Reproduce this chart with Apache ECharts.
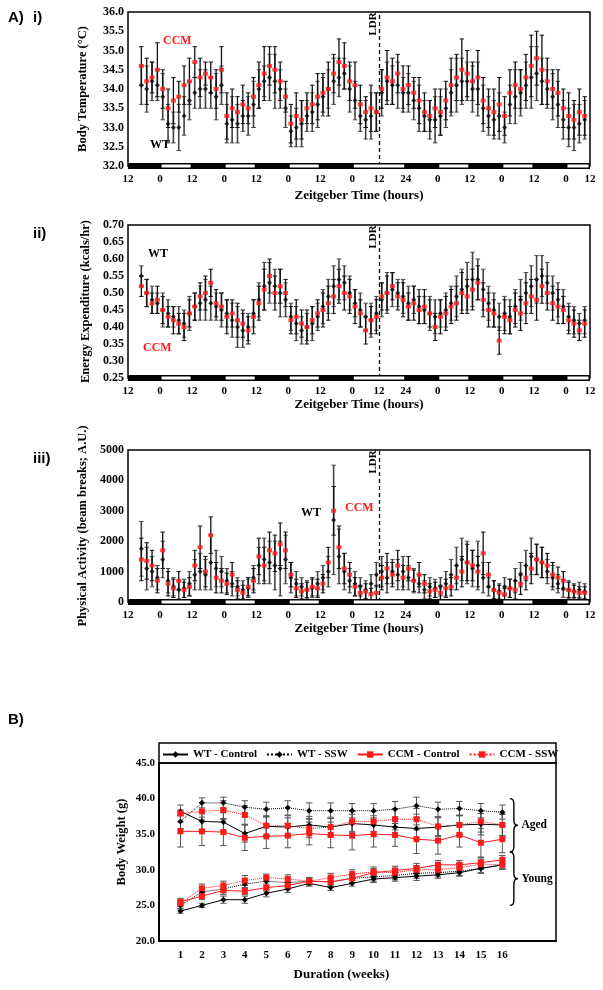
<!DOCTYPE html>
<html><head><meta charset="utf-8">
<script src="https://cdn.jsdelivr.net/npm/echarts@6/dist/echarts.min.js"></script>
<style>html,body{margin:0;padding:0;background:#fff}#c{width:603px;height:990px}</style>
</head><body><div id="c"></div>
<script>
// ---------- Panel A: Zeitgeber axis ----------
const zeitTickPos = [0,12,24,36,48,60,72,84,94,104,116,128,140,152,164,173];
const zeitTickLabels = ['12','0','12','0','12','0','12','0','12','24','0','12','0','12','0','12'];
const lightPhases = [[12,24],[36,48],[60,72],[84,104],[116,128],[140,152],[164,173]];
const zeitMax = 173;
const ldrPos = 94;

// ---------- i) Body temperature ----------
const tempWT = [34.1,34.0,34.2,34.1,33.8,33.1,33.0,33.0,33.3,33.7,
33.9,34.0,34.0,33.9,33.8,34.1,33.1,33.2,33.1,33.3,
33.3,33.6,34.0,34.2,34.3,34.2,34.0,33.5,32.9,33.0,
33.1,33.3,33.4,33.6,33.8,34.0,34.2,34.3,34.4,34.0,
33.7,33.3,33.2,33.3,33.4,33.9,34.2,34.1,34.1,33.9,
33.9,33.7,33.5,33.3,33.2,33.2,33.3,33.5,33.9,34.1,
34.2,34.2,34.0,34.0,33.5,33.3,33.2,33.3,33.0,33.6,
33.8,33.9,34.1,34.3,34.4,34.2,34.0,33.8,33.6,33.2,
33.0,33.0,33.1,33.2];
const tempWTErr = [0.5,0.6,0.5,0.4,0.6,0.5,0.4,0.6,0.5,0.5,
0.4,0.5,0.5,0.4,0.6,0.5,0.5,0.6,0.5,0.4,
0.5,0.6,0.5,0.4,0.6,0.7,0.5,0.5,0.4,0.5,
0.6,0.4,0.5,0.6,0.5,0.5,0.6,0.5,0.4,0.6,
0.5,0.4,0.5,0.6,0.5,0.6,0.5,0.5,0.6,0.4,
0.5,0.5,0.6,0.4,0.5,0.6,0.5,0.5,0.6,0.7,
0.6,0.5,0.6,0.7,0.6,0.5,0.5,0.6,0.4,0.5,
0.7,0.6,0.6,0.8,0.7,0.6,0.5,0.6,0.6,0.5,
0.5,0.6,0.5,0.5];
const tempCCM = [34.6,34.2,34.3,34.5,34.0,33.5,33.7,33.8,34.1,34.2,
34.7,34.3,34.4,34.3,34.0,34.5,33.3,33.5,33.4,33.6,
33.5,33.8,34.1,34.4,34.6,34.5,34.2,33.8,33.1,33.3,
33.2,33.5,33.6,33.8,33.9,34.0,34.4,34.7,34.6,34.2,
34.1,33.6,33.4,33.5,33.4,34.0,34.3,34.2,34.4,34.0,
34.1,33.9,33.7,33.4,33.3,33.5,33.4,33.7,34.1,34.3,
34.5,34.4,34.2,34.3,33.7,33.5,33.4,33.6,33.3,33.9,
34.1,34.0,34.3,34.6,34.8,34.5,34.2,34.0,33.9,33.5,
33.3,33.2,33.4,33.3];
const tempCCMErr = [0.5,0.6,0.4,0.7,0.5,0.5,0.6,0.4,0.5,0.6,
0.4,0.5,0.3,0.4,0.5,0.6,0.6,0.5,0.4,0.5,
0.4,0.5,0.6,0.7,0.5,0.6,0.5,0.4,0.5,0.6,
0.5,0.4,0.5,0.6,0.5,0.7,0.5,0.6,0.6,0.5,
0.6,0.5,0.4,0.6,0.5,0.5,0.7,0.6,0.5,0.6,
0.5,0.4,0.6,0.5,0.4,0.5,0.6,0.5,0.7,0.6,
0.8,0.6,0.5,0.7,0.6,0.5,0.6,0.7,0.5,0.6,
0.6,0.5,0.6,0.8,0.7,0.9,0.6,0.5,0.6,0.5,
0.6,0.5,0.6,0.5];

// ---------- ii) Energy expenditure ----------
const eeWT = [0.55,0.50,0.48,0.47,0.45,0.44,0.43,0.42,0.41,0.44,
0.46,0.47,0.48,0.47,0.46,0.45,0.44,0.42,0.40,0.39,
0.40,0.44,0.48,0.52,0.53,0.52,0.50,0.48,0.43,0.41,
0.39,0.40,0.41,0.43,0.46,0.49,0.52,0.54,0.53,0.50,
0.47,0.45,0.43,0.42,0.44,0.48,0.50,0.51,0.50,0.49,
0.47,0.48,0.46,0.45,0.44,0.43,0.44,0.45,0.47,0.49,
0.51,0.52,0.54,0.54,0.51,0.47,0.45,0.43,0.44,0.43,
0.46,0.48,0.50,0.52,0.54,0.55,0.53,0.50,0.48,0.46,
0.43,0.42,0.41,0.42];
const eeWTErr = [0.03,0.04,0.04,0.03,0.05,0.04,0.03,0.04,0.04,0.05,
0.04,0.05,0.06,0.05,0.04,0.05,0.04,0.05,0.06,0.05,
0.04,0.04,0.05,0.07,0.06,0.05,0.07,0.05,0.04,0.05,
0.04,0.04,0.05,0.04,0.05,0.05,0.06,0.06,0.05,0.05,
0.04,0.05,0.04,0.05,0.05,0.05,0.06,0.05,0.04,0.05,
0.05,0.04,0.05,0.04,0.05,0.05,0.04,0.05,0.05,0.06,
0.06,0.07,0.08,0.06,0.06,0.05,0.05,0.04,0.05,0.05,
0.05,0.06,0.06,0.06,0.07,0.06,0.06,0.05,0.05,0.05,
0.04,0.04,0.03,0.04];
const eeCCM = [0.52,0.50,0.47,0.48,0.45,0.43,0.42,0.41,0.40,0.44,
0.46,0.49,0.50,0.53,0.47,0.46,0.43,0.44,0.42,0.41,
0.39,0.43,0.47,0.51,0.55,0.50,0.52,0.50,0.42,0.43,
0.41,0.40,0.42,0.44,0.45,0.47,0.49,0.52,0.50,0.49,
0.46,0.44,0.39,0.42,0.43,0.49,0.50,0.52,0.49,0.48,
0.46,0.47,0.45,0.46,0.44,0.40,0.43,0.44,0.46,0.47,
0.50,0.49,0.51,0.53,0.48,0.45,0.44,0.36,0.43,0.42,
0.45,0.44,0.47,0.49,0.48,0.52,0.50,0.47,0.46,0.45,
0.42,0.41,0.39,0.41];
const eeCCMErr = [0.03,0.04,0.03,0.04,0.04,0.03,0.04,0.03,0.04,0.04,
0.04,0.04,0.05,0.04,0.04,0.04,0.05,0.04,0.05,0.04,
0.04,0.05,0.05,0.06,0.05,0.05,0.05,0.04,0.04,0.05,
0.04,0.05,0.04,0.04,0.05,0.05,0.05,0.05,0.05,0.05,
0.05,0.04,0.04,0.04,0.05,0.04,0.05,0.04,0.04,0.05,
0.04,0.05,0.04,0.05,0.04,0.04,0.05,0.05,0.05,0.05,
0.06,0.05,0.06,0.05,0.05,0.05,0.04,0.04,0.05,0.04,
0.05,0.05,0.06,0.05,0.06,0.05,0.05,0.05,0.05,0.04,
0.04,0.04,0.03,0.04];

// ---------- iii) Physical activity ----------
const paWT = [1750,1100,1000,800,1400,700,500,400,450,600,
900,1000,900,1300,1100,1000,700,600,500,400,
450,800,1200,1400,1300,1200,1100,1400,800,600,
500,400,450,600,800,1000,2700,1500,1000,700,
600,500,400,600,900,1000,800,1000,900,1000,
800,700,600,400,500,450,500,600,900,1200,
1400,1300,1100,1200,800,500,400,350,500,450,
700,900,1200,1500,1400,1300,1000,800,600,450,
400,350,400,350];
const paWTErr = [900,700,500,400,600,400,300,300,300,400,
500,600,500,900,600,500,400,400,300,300,
300,400,600,700,700,800,900,800,500,400,
300,300,300,400,400,500,1800,900,600,400,
400,300,300,300,400,500,500,400,500,500,
400,400,300,300,300,300,300,400,500,600,
700,700,600,800,500,300,300,250,300,300,
400,400,500,600,500,500,400,400,300,300,
300,250,250,250];
const paCCM = [1400,1350,1200,700,1700,600,450,700,400,500,
1200,1800,1000,2200,800,700,600,900,400,300,
500,700,1500,1200,1700,1600,1900,1700,900,450,
350,400,500,450,600,1300,3000,1800,1100,900,
500,300,350,250,300,800,1100,900,1200,800,
1100,700,900,600,350,400,300,450,500,800,
1000,1300,1200,1000,1600,900,400,300,250,450,
400,600,800,1100,1400,1300,1200,900,800,700,
400,350,300,300];
const paCCMErr = [700,600,500,400,600,400,300,300,250,300,
500,700,500,600,500,400,350,400,300,250,
300,400,600,600,600,600,700,600,400,300,
250,250,300,300,300,500,800,700,500,400,
300,250,250,200,250,400,500,400,500,400,
400,350,400,300,250,250,250,300,300,400,
500,600,500,500,700,400,300,250,200,300,
300,350,400,500,500,500,400,400,350,300,
250,200,200,200];

// ---------- B) Body weight ----------
const weeks = [1,2,3,4,5,6,7,8,9,10,11,12,13,14,15,16];
const wtCtrlAged  = [38.2,36.8,36.7,35.1,36.1,36.0,36.3,36.0,36.5,36.3,36.0,35.8,36.0,36.3,36.4,36.3];
const wtSswAged   = [36.8,39.4,39.4,38.8,38.5,38.7,38.3,38.3,38.3,38.3,38.5,39.0,38.5,38.6,38.3,38.1];
const ccmCtrlAged = [35.4,35.4,35.3,34.5,34.7,34.8,35.1,34.9,34.8,35.0,34.9,34.3,34.1,34.9,33.8,34.3];
const ccmSswAged  = [37.9,38.2,38.4,37.7,36.2,36.2,35.8,36.0,36.8,36.8,37.1,37.1,36.1,36.3,36.8,36.3];
const wtCtrlYoung  = [24.2,25.0,25.8,25.8,26.7,27.3,28.1,27.5,28.1,28.7,28.9,29.1,29.3,29.6,30.2,30.7];
const wtSswYoung   = [25.0,26.9,27.3,28.0,28.4,28.2,28.4,28.3,28.8,29.0,29.2,29.5,29.6,29.8,30.2,30.7];
const ccmCtrlYoung = [25.5,26.3,27.1,27.0,27.5,27.8,28.4,28.3,28.8,29.6,29.9,30.2,30.7,30.7,31.0,31.4];
const ccmSswYoung  = [25.3,27.4,27.8,28.5,28.9,28.7,28.4,28.9,29.4,29.7,29.6,30.0,30.0,30.3,30.8,30.7];
const wtCtrlAgedErr  = [0.2,1.3,1.3,1.2,1.3,1.3,1.2,1.2,1.3,1.3,1.2,1.5,1.3,1.3,1.5,1.5];
const wtSswAgedErr   = [1.0,0.7,0.8,0.9,1.0,1.0,1.1,1.1,1.0,1.0,1.1,1.2,1.0,1.0,1.0,1.0];
const ccmCtrlAgedErr = [2.2,2.0,1.9,1.8,1.7,1.7,1.6,1.8,2.0,1.8,1.6,2.0,1.9,1.7,2.0,1.9];
const ccmSswAgedErr  = [1.2,1.2,1.3,1.3,1.4,1.4,1.3,1.4,1.4,1.4,1.5,1.5,1.3,1.4,1.5,1.5];
const wtCtrlYoungErr  = [0.3,0.3,0.5,0.5,0.5,0.5,0.4,0.4,0.4,0.5,0.5,0.6,0.5,0.5,0.6,0.6];
const wtSswYoungErr   = [0.4,0.5,0.5,0.6,0.6,0.6,0.5,0.6,0.6,0.6,0.6,0.7,0.6,0.6,0.7,0.6];
const ccmCtrlYoungErr = [0.5,0.5,0.6,0.5,0.5,0.5,0.5,0.6,0.6,0.6,0.6,0.7,0.6,0.6,0.7,0.6];
const ccmSswYoungErr  = [0.4,0.6,0.6,0.7,0.5,0.6,0.5,0.6,0.6,0.7,0.6,0.6,0.6,0.6,0.7,0.6];

// ---------- build ----------
const SERIF = '"Times New Roman","Liberation Serif",serif';
const SANS = 'Arial,"Liberation Sans",sans-serif';
const RED = '#ff1a1a';
const hoursOf = arr => arr.map((_, i) => 5 + 2 * i);

const panels = [
  {wt: tempWT, wtErr: tempWTErr, ccm: tempCCM, ccmErr: tempCCMErr, min: 32, max: 36, interval: 0.5, dec: 1,
   yName: 'Body Temperature (°C)', top: 12, height: 154, nameGap: 23, yNameGap: 39},
  {wt: eeWT, wtErr: eeWTErr, ccm: eeCCM, ccmErr: eeCCMErr, min: 0.25, max: 0.70, interval: 0.05, dec: 2,
   yName: 'Energy Expenditure (kcals/hr)', top: 225, height: 153, nameGap: 19, yNameGap: 29},
  {wt: paWT, wtErr: paWTErr, ccm: paCCM, ccmErr: paCCMErr, min: 0, max: 5000, interval: 1000, dec: 0,
   yName: 'Physical Activity (beam breaks; A.U.)', top: 450, height: 152, nameGap: 19, yNameGap: 32}
];

function errBar(gi, xs, ys, es, color, cap, z, lw) {
  return {
    type: 'custom', xAxisIndex: gi, yAxisIndex: gi, silent: true, z: z, clip: true,
    data: xs.map((x, i) => [x, ys[i] - (es[i] || 0), ys[i] + (es[i] || 0)]),
    encode: {x: 0, y: [1, 2]},
    renderItem: (params, api) => {
      const x = api.value(0);
      const lo = api.coord([x, api.value(1)]);
      const hi = api.coord([x, api.value(2)]);
      const st = {stroke: color, lineWidth: lw};
      const cs = {stroke: color, lineWidth: 1};
      return {type: 'group', children: [
        {type: 'line', shape: {x1: lo[0], y1: lo[1], x2: hi[0], y2: hi[1]}, style: st},
        {type: 'line', shape: {x1: lo[0] - cap, y1: lo[1], x2: lo[0] + cap, y2: lo[1]}, style: cs},
        {type: 'line', shape: {x1: hi[0] - cap, y1: hi[1], x2: hi[0] + cap, y2: hi[1]}, style: cs}
      ]};
    }
  };
}

function ldBand(gi, yMin) {
  const data = [[0, zeitMax, 0]].concat(lightPhases.map(p => [p[0], p[1], 1]));
  return {
    type: 'custom', xAxisIndex: gi, yAxisIndex: gi, silent: true, z: 10, clip: false,
    data: data, encode: {x: [0, 1]},
    renderItem: (params, api) => {
      const s = api.coord([api.value(0), yMin]);
      const e = api.coord([api.value(1), yMin]);
      if (api.value(2) === 0) {
        return {type: 'rect', shape: {x: s[0], y: s[1] - 3, width: e[0] - s[0], height: 6}, style: {fill: '#000'}};
      }
      return {type: 'rect', shape: {x: s[0] + 1.5, y: s[1] - 1.5, width: e[0] - s[0] - 3, height: 3}, style: {fill: '#fff'}};
    }
  };
}

const grids = [], xAxes = [], yAxes = [], series = [];
const axisFont = {fontFamily: SERIF, fontWeight: 'bold', color: '#000'};

panels.forEach((p, gi) => {
  grids.push({left: 128, width: 462, top: p.top, height: p.height, show: true,
    borderColor: '#000', borderWidth: 1.5, backgroundColor: 'transparent', containLabel: false, outerBoundsMode: 'none'});
  xAxes.push({gridIndex: gi, type: 'value', min: 0, max: zeitMax,
    axisLine: {show: false}, axisTick: {show: false}, splitLine: {show: false},
    axisLabel: Object.assign({customValues: zeitTickPos, margin: 8, fontSize: 11,
      formatter: v => { const k = zeitTickPos.indexOf(v); return k >= 0 ? zeitTickLabels[k] : ''; }}, axisFont),
    name: 'Zeitgeber Time (hours)', nameLocation: 'middle', nameGap: p.nameGap,
    nameTextStyle: Object.assign({fontSize: 13}, axisFont)});
  yAxes.push({gridIndex: gi, type: 'value', min: p.min, max: p.max, interval: p.interval,
    axisLine: {show: false}, axisTick: {show: false}, splitLine: {show: false},
    axisLabel: Object.assign({margin: 4, fontSize: 12, formatter: v => v.toFixed(p.dec)}, axisFont),
    name: p.yName, nameLocation: 'middle', nameGap: p.yNameGap, nameRotate: 90,
    nameTextStyle: Object.assign({fontSize: 12.5}, axisFont)});
  const hrs = hoursOf(p.wt);
  series.push(errBar(gi, hrs, p.wt, p.wtErr, '#444', 2.2, 2, 1.6));
  series.push({type: 'scatter', xAxisIndex: gi, yAxisIndex: gi, z: 3, silent: true,
    symbol: 'diamond', symbolSize: 5, itemStyle: {color: '#000'},
    data: hrs.map((h, i) => [h, p.wt[i]]),
    markLine: {silent: true, symbol: 'none', label: {show: false},
      lineStyle: {type: [4, 3], color: '#000', width: 1.3}, data: [{xAxis: ldrPos}]}});
  series.push(errBar(gi, hrs, p.ccm, p.ccmErr, '#111', 2.2, 4, 1.3));
  series.push({type: 'scatter', xAxisIndex: gi, yAxisIndex: gi, z: 5, silent: true,
    symbol: 'rect', symbolSize: [5, 4], itemStyle: {color: RED},
    data: hoursOf(p.ccm).map((h, i) => [h, p.ccm[i]])});
  series.push(ldBand(gi, p.min));
});

// Panel B
grids.push({left: 159, width: 397, top: 763, height: 178, show: true, borderColor: '#000', borderWidth: 1.5,
  backgroundColor: 'transparent', containLabel: false, outerBoundsMode: 'none'});
xAxes.push({gridIndex: 3, type: 'value', min: 0, max: 18.5,
  axisLine: {show: true, lineStyle: {color: '#000', width: 2}}, axisTick: {show: false}, splitLine: {show: false},
  axisLabel: Object.assign({customValues: weeks, margin: 9, fontSize: 11, formatter: v => String(v)}, axisFont)});
yAxes.push({gridIndex: 3, type: 'value', min: 20, max: 45, interval: 5,
  axisLine: {show: true, lineStyle: {color: '#000', width: 2}}, axisTick: {show: false}, splitLine: {show: false},
  axisLabel: Object.assign({margin: 4, fontSize: 11, formatter: v => v.toFixed(1)}, axisFont)});

const bGroups = [
  {name: 'WT - Control', color: '#000', dash: 'solid', sym: 'diamond', size: 6,
   sets: [[wtCtrlAged, wtCtrlAgedErr], [wtCtrlYoung, wtCtrlYoungErr]]},
  {name: 'WT - SSW', color: '#000', dash: 'dotted', sym: 'diamond', size: 6,
   sets: [[wtSswAged, wtSswAgedErr], [wtSswYoung, wtSswYoungErr]]},
  {name: 'CCM - Control', color: RED, dash: 'solid', sym: 'rect', size: 6,
   sets: [[ccmCtrlAged, ccmCtrlAgedErr], [ccmCtrlYoung, ccmCtrlYoungErr]]},
  {name: 'CCM - SSW', color: RED, dash: 'dotted', sym: 'rect', size: 6,
   sets: [[ccmSswAged, ccmSswAgedErr], [ccmSswYoung, ccmSswYoungErr]]}
];
bGroups.forEach(g => {
  g.sets.forEach(([vals, errs]) => {
    series.push(errBar(3, weeks, vals, errs, '#555', 3.2, 2, 1));
    series.push({type: 'line', name: g.name, xAxisIndex: 3, yAxisIndex: 3, z: 4, silent: true,
      symbol: g.sym, symbolSize: g.size, showSymbol: true,
      lineStyle: {color: g.color, width: 1, type: g.dash}, itemStyle: {color: g.color},
      data: weeks.map((w, i) => [w, vals[i]])});
  });
});
// braces (Aged / Young) spanning weight ranges
const braceRanges = [[40.0, 32.5], [32.5, 25.0]];
series.push({type: 'custom', xAxisIndex: 3, yAxisIndex: 3, silent: true, z: 6, clip: false,
  data: braceRanges.map(r => [16.35, r[0], r[1]]), encode: {x: 0, y: [1, 2]},
  renderItem: (params, api) => {
    const a = api.coord([api.value(0), api.value(1)]);
    const b = api.coord([api.value(0), api.value(2)]);
    const x = a[0], y0 = a[1], y1 = b[1], ym = (y0 + y1) / 2, w = 4;
    const d = `M${x},${y0} Q${x + w},${y0} ${x + w},${y0 + 5} L${x + w},${ym - 5} Q${x + w},${ym} ${x + 2 * w},${ym} ` +
              `Q${x + w},${ym} ${x + w},${ym + 5} L${x + w},${y1 - 5} Q${x + w},${y1} ${x},${y1}`;
    return {type: 'path', shape: {pathData: d}, style: {fill: 'none', stroke: '#000', lineWidth: 1.4}};
  }});

const option = {
  animation: false, backgroundColor: '#fff',
  grid: grids, xAxis: xAxes, yAxis: yAxes, series: series,
  legend: {data: bGroups.map(g => g.name), left: 162, top: 749, itemWidth: 25, itemHeight: 8, itemGap: 9, padding: 0,
    textStyle: {fontFamily: SERIF, fontWeight: 'bold', fontSize: 11, color: '#000'}, selectedMode: false}
};

const chart = echarts.init(document.getElementById('c'), null, {renderer: 'canvas'});
chart.setOption(option);

const px = (gi, pt) => chart.convertToPixel({gridIndex: gi}, pt);
const txt = (x, y, s, opts) => Object.assign({type: 'text', x: x, y: y, silent: true, z: 100,
  style: Object.assign({text: s, fill: '#000', font: 'bold 12px ' + SERIF, align: 'left', verticalAlign: 'middle'}, opts || {})});
const graphics = [
  txt(8, 18, 'A)', {font: 'bold 15px ' + SANS}),
  txt(33, 18, 'i)', {font: 'bold 15px ' + SANS}),
  txt(33, 234, 'ii)', {font: 'bold 15px ' + SANS}),
  txt(33, 459, 'iii)', {font: 'bold 15px ' + SANS}),
  txt(8, 720, 'B)', {font: 'bold 15px ' + SANS}),
  txt(163, 41, 'CCM', {fill: RED}),
  txt(150, 145, 'WT'),
  txt(148, 254, 'WT'),
  txt(143, 348, 'CCM', {fill: RED}),
  txt(301, 513, 'WT'),
  txt(345, 508, 'CCM', {fill: RED})
];
panels.forEach((p, gi) => {
  const q = px(gi, [ldrPos, p.max]);
  graphics.push(Object.assign(txt(q[0] - 6, q[1] + 12, 'LDR', {align: 'center', font: 'bold 11px ' + SERIF}), {rotation: Math.PI / 2}));
});
const pa = px(3, [16.75, 36.25]);
const py = px(3, [16.75, 28.75]);
graphics.push(txt(pa[0] + 3, pa[1], 'Aged', {font: 'bold 11.5px ' + SERIF}));
graphics.push(txt(py[0] + 3, py[1], 'Young', {font: 'bold 11.5px ' + SERIF}));
const pd = px(3, [8.5, 20]);
graphics.push(txt(pd[0], pd[1] + 34, 'Duration (weeks)', {align: 'center', font: 'bold 13px ' + SERIF}));
// y-axis title of panel B
const pw = px(3, [0, 33.9]);
graphics.push(Object.assign(txt(pw[0] - 37, pw[1], 'Body Weight (g)', {align: 'center', font: 'bold 12.5px ' + SERIF}), {rotation: Math.PI / 2}));
// legend strip box
const lb0 = px(3, [0, 45]);
const lb1 = px(3, [18.5, 45]);
graphics.push({type: 'rect', silent: true, z: 0, shape: {x: lb0[0], y: lb0[1] - 20, width: lb1[0] - lb0[0], height: 20},
  style: {fill: 'none', stroke: '#000', lineWidth: 1.5}});
chart.setOption({graphic: graphics});
</script></body></html>
